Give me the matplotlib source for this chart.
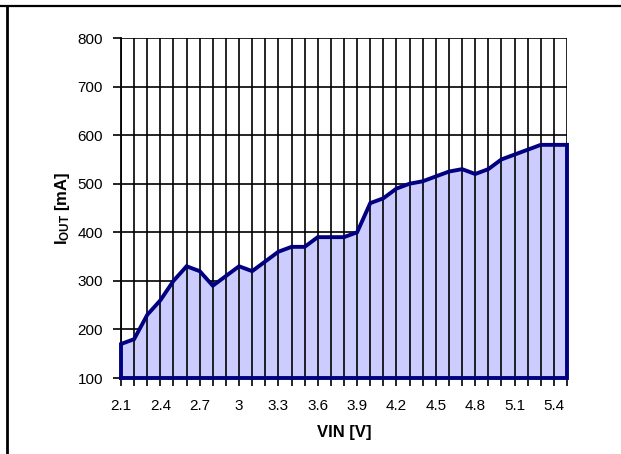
import matplotlib
matplotlib.use("Agg")
import matplotlib.pyplot as plt
import numpy as np

plt.rcParams['font.family'] = ['Liberation Sans', 'DejaVu Sans']
plt.rcParams['mathtext.fontset'] = 'custom'
plt.rcParams['mathtext.rm'] = 'Liberation Sans'
plt.rcParams['mathtext.bf'] = 'Liberation Sans:bold'

vin = [2.1, 2.2, 2.3, 2.4, 2.5, 2.6, 2.7, 2.8, 2.9, 3.0, 3.1, 3.2, 3.3, 3.4,
       3.5, 3.6, 3.7, 3.8, 3.9, 4.0, 4.1, 4.2, 4.3, 4.4, 4.5, 4.6, 4.7, 4.8,
       4.9, 5.0, 5.1, 5.2, 5.3, 5.4, 5.5]
iout = [170, 180, 230, 260, 300, 330, 320, 290, 310, 330, 320, 340, 360, 370,
        370, 390, 390, 390, 400, 460, 470, 490, 500, 505, 515, 525, 530, 520,
        530, 550, 560, 570, 580, 580, 580]
yticks = [100, 200, 300, 400, 500, 600, 700, 800]
xticklabels = ['2.1', '2.4', '2.7', '3', '3.3', '3.6', '3.9', '4.2', '4.5', '4.8', '5.1', '5.4']

fig = plt.figure(figsize=(6.21, 4.54), dpi=100)
# outer frame lines
fig.add_artist(plt.Line2D([0, 1], [1 - 6/454, 1 - 6/454], color='black', lw=1.6))
fig.add_artist(plt.Line2D([7/621, 7/621], [0, 1 - 6/454], color='black', lw=2.0))

ax = fig.add_axes([121/621, 76/454, (567-121)/621, (378-38)/454])
ax.set_xlim(vin[0], vin[-1])
ax.set_ylim(100, 800)

# horizontal gridlines below fill
for yv in yticks:
    ax.axhline(yv, color='black', lw=1.2, zorder=0.5)

ax.fill_between(vin, 100, iout, facecolor='#CCCCFF', edgecolor='none', zorder=1)

# vertical gridlines on top of fill
ax.vlines(vin, 100, 800, colors='black', lw=1.2, zorder=2)

# outline of area
xs = [vin[0]] + vin + [vin[-1], vin[0]]
ys = [100] + iout + [100, 100]
ax.plot(xs, ys, color='#000080', lw=2.8, zorder=3, clip_on=False, solid_joinstyle='miter')

ax.set_yticks(yticks)
ax.set_xticks(vin)
labels = []
for i, v in enumerate(vin):
    labels.append(xticklabels[i // 3] if i % 3 == 0 and i // 3 < len(xticklabels) else '')
ax.set_xticklabels(labels)

for s in ['top', 'right']:
    ax.spines[s].set_visible(False)
ax.spines['left'].set_linewidth(1.3)
ax.spines['bottom'].set_linewidth(1.3)
ax.spines['left'].set_zorder(2.5)
ax.tick_params(axis='both', direction='out', length=6, width=1.2, labelsize=11, colors='black')
ax.tick_params(axis='x', pad=9)
ax.tick_params(axis='y', pad=7)

ax.set_xlabel('VIN [V]', fontsize=12, fontweight='bold', labelpad=9)
ax.set_ylabel(r'$\mathbf{I_{OUT}}$ [mA]', fontsize=12, fontweight='bold', labelpad=4)

fig.savefig('out.png', dpi=100)
